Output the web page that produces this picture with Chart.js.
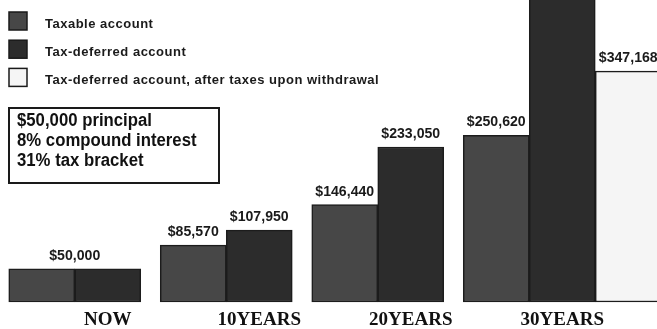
<!DOCTYPE html>
<html>
<head>
<meta charset="utf-8">
<script src="https://cdn.jsdelivr.net/npm/chart.js@4.4.0/dist/chart.umd.min.js"></script>
<style>
  html, body { margin: 0; padding: 0; background: #fff; overflow: hidden; }
  #wrap { position: relative; width: 657px; height: 329px; }
</style>
</head>
<body>
<div id="wrap"><canvas id="growthChart"></canvas></div>
<script>
'use strict';

// Growth of a $50,000 principal at 8% compounded
const periods = ['NOW', '10YEARS', '20YEARS', '30YEARS'];
const taxable = [50000, 85570, 146440, 250620];
const taxDeferred = [50000, 107950, 233050, 503130];
const afterWithdrawal = [null, null, null, 347168];

const seriesNames = ['Taxable account', 'Tax-deferred account', 'Tax-deferred account, after taxes upon withdrawal'];
const seriesFill = ['#474747', '#2c2c2c', '#f5f5f5'];
const noteLines = ['$50,000 principal', '8% compound interest', '31% tax bracket'];

const SANS = '"Liberation Sans", Arial, sans-serif';

const money = v => '$' + Number(v).toLocaleString('en-US');

// draw text squeezed horizontally, for a condensed look
function narrowText(ctx, text, x, y, sx) {
  ctx.save();
  ctx.translate(x, y);
  ctx.scale(sx, 1);
  ctx.fillText(text, 0, 0);
  ctx.restore();
}

// value labels over bars; equal neighbours in a group share one label
const valueLabels = {
  id: 'valueLabels',
  afterDatasetsDraw(chart) {
    const ctx = chart.ctx;
    ctx.save();
    ctx.font = 'bold 15px ' + SANS;
    ctx.fillStyle = '#1a1a1a';
    ctx.textAlign = 'center';
    ctx.textBaseline = 'alphabetic';
    periods.forEach((p, i) => {
      const bars = [];
      chart.data.datasets.forEach((ds, d) => {
        const v = ds.data[i];
        if (v == null) return;
        const el = chart.getDatasetMeta(d).data[i];
        bars.push({ v, x: el.x, y: el.y });
      });
      let k = 0;
      while (k < bars.length) {
        let j = k;
        while (j + 1 < bars.length && bars[j + 1].v === bars[k].v) j++;
        const x = (bars[k].x + bars[j].x) / 2;
        narrowText(ctx, money(bars[k].v), x, bars[k].y - 9, 0.94);
        k = j + 1;
      }
    });
    ctx.restore();
  }
};

// stacked legend and assumptions box in the upper left
const legendNote = {
  id: 'legendNote',
  afterDraw(chart) {
    const ctx = chart.ctx;
    ctx.save();
    seriesNames.forEach((name, i) => {
      const cy = 21 + i * 28.2;
      ctx.fillStyle = seriesFill[i];
      ctx.fillRect(9, cy - 9, 18, 18);
      ctx.strokeStyle = '#1a1a1a';
      ctx.lineWidth = 1.5;
      ctx.strokeRect(9, cy - 9, 18, 18);
      ctx.fillStyle = '#1a1a1a';
      ctx.font = 'bold 13px ' + SANS;
      ctx.letterSpacing = '0.5px';
      ctx.textAlign = 'left';
      ctx.textBaseline = 'alphabetic';
      ctx.fillText(name, 45, cy + 7);
    });
    ctx.letterSpacing = '0px';

    ctx.fillStyle = '#fff';
    ctx.fillRect(9, 108, 210, 75);
    ctx.strokeStyle = '#1a1a1a';
    ctx.lineWidth = 2;
    ctx.strokeRect(9, 108, 210, 75);
    ctx.fillStyle = '#111';
    ctx.font = 'bold 18px ' + SANS;
    ctx.textAlign = 'left';
    noteLines.forEach((t, i) => narrowText(ctx, t, 17, 126 + i * 20, 0.93));
    ctx.restore();
  }
};

new Chart(document.getElementById('growthChart'), {
  type: 'bar',
  data: {
    labels: periods,
    datasets: [taxable, taxDeferred, afterWithdrawal].map((data, i) => ({
      label: seriesNames[i],
      data,
      backgroundColor: seriesFill[i],
      borderColor: '#1c1c1c',
      borderWidth: 1.5,
      borderSkipped: false,
      barThickness: 66,
      clip: false
    }))
  },
  options: {
    responsive: true,
    maintainAspectRatio: false,
    animation: false,
    layout: { padding: { left: 32, right: 19, top: 0, bottom: -10 } },
    plugins: {
      legend: { display: false },
      tooltip: { enabled: false }
    },
    scales: {
      x: {
        grid: { display: false, drawTicks: false },
        border: { display: false },
        ticks: {
          color: '#111',
          padding: 3,
          font: { family: '"Liberation Serif", "Times New Roman", serif', size: 19, weight: 'bold', lineHeight: '31px' }
        }
      },
      y: {
        display: false,
        min: 0,
        max: 454000
      }
    }
  },
  plugins: [valueLabels, legendNote]
});
</script>
</body>
</html>
